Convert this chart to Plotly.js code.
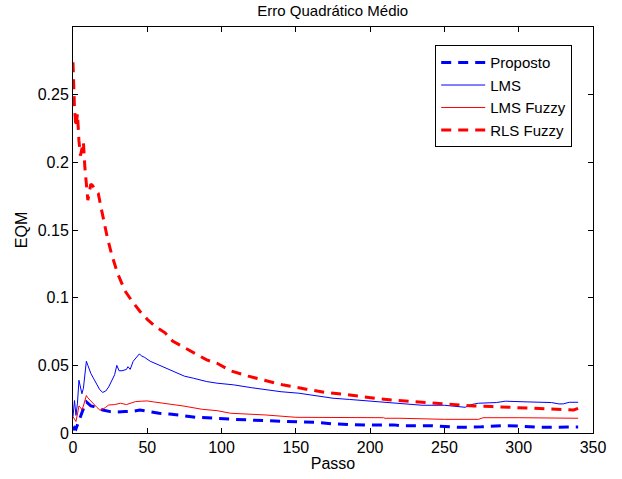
<!DOCTYPE html>
<html>
<head>
<meta charset="utf-8">
<script src="https://cdn.plot.ly/plotly-3.0.1.min.js"></script>
<style>html,body{margin:0;padding:0;background:#fff}#chart{width:622px;height:479px}</style>
</head>
<body>
<div id="chart"></div>
<script>
// Series names
const seriesNames = ["Proposto", "LMS", "LMS Fuzzy", "RLS Fuzzy"];

// Proposto (blue dashed)
const propX = [0,1,2,3,4,5,6,7,8,9,10,12,14,17,20,25,30,35,40,45,48,52,58,65,71,83,97,108,130,152,165,175,197,216,220,242,255,260,275,290,300,313,333,340];
const propY = [0.002,0.004,0.003,0.006,0.010,0.012,0.015,0.018,0.021,0.023,0.022,0.020,0.0195,0.018,0.017,0.0158,0.0155,0.0158,0.016,0.017,0.0165,0.0158,0.0146,0.014,0.0133,0.0116,0.0109,0.0101,0.0091,0.0084,0.0078,0.0067,0.0059,0.006,0.0054,0.0054,0.0048,0.0042,0.0046,0.0054,0.0052,0.0042,0.0044,0.0044];

// LMS (blue solid)
const lmsX = [0,1,2,3,4,5,6,7,8,9,10,12,14,16,18,20,22,24,26,28,29.5,31,33,36,37,38.5,40.5,43,44.7,46,48,52,58,67,75,81,90,97,108,120,130,140,152,165,175,186,197,208,220,235,250,264,268,273,285,291,305,315,322,327,330,334,340];
const lmsY = [0.012,0.024,0.013,0.022,0.039,0.033,0.029,0.033,0.045,0.053,0.050,0.044,0.040,0.036,0.032,0.030,0.031,0.034,0.038,0.043,0.050,0.046,0.046,0.047,0.049,0.047,0.053,0.056,0.0585,0.057,0.056,0.053,0.050,0.0455,0.042,0.0405,0.038,0.0368,0.0356,0.0335,0.032,0.0305,0.0294,0.027,0.0257,0.0248,0.0239,0.0225,0.0215,0.0205,0.0205,0.019,0.021,0.022,0.0225,0.0235,0.023,0.0228,0.0225,0.0215,0.0215,0.0227,0.0227];

// LMS Fuzzy (red solid)
const lmsfX = [0,1,2,3,4,5,6,7,8,9,10,12,14,16,18,20,22,24,28,32,36,40,42,46,50,54,58,66,74,87,97,106,118,130,150,175,200,209,210,220,250,273,276,291,300,340];
const lmsfY = [0.012,0.010,0.0085,0.014,0.020,0.019,0.017,0.020,0.025,0.0277,0.026,0.0235,0.021,0.019,0.017,0.0175,0.019,0.0207,0.021,0.022,0.021,0.0225,0.0232,0.0235,0.0237,0.023,0.0225,0.021,0.020,0.0175,0.0165,0.0146,0.0140,0.0133,0.0116,0.0116,0.0115,0.0113,0.0109,0.0109,0.0101,0.0101,0.0113,0.0116,0.0113,0.0109];

// RLS Fuzzy (red dashed)
const rlsX = [0,1,2,3,4,5,6,7,8,9,10,11,12,13,15,17,19,21,23,26,30,35,40,45,50,55,62,67,72,78,83,90,97,106,118,129,141,157,169,182,194,206,218,231,244,258,270,282,296,308,320,330,335,337,340];
const rlsY = [0.274,0.240,0.226,0.236,0.216,0.205,0.210,0.215,0.196,0.182,0.172,0.178,0.184,0.183,0.180,0.177,0.166,0.155,0.145,0.132,0.118,0.105,0.097,0.090,0.084,0.079,0.074,0.068,0.065,0.061,0.058,0.054,0.0515,0.046,0.042,0.0388,0.0356,0.0324,0.0301,0.0287,0.0269,0.0252,0.0241,0.023,0.022,0.0207,0.020,0.0195,0.019,0.0185,0.0178,0.0176,0.0172,0.017,0.0182];

const xTicks = [0,50,100,150,200,250,300,350];
const yTicks = [0,0.05,0.1,0.15,0.2,0.25];
const yTickText = ["0","0.05","0.1","0.15","0.2","0.25"];

const BLUE = "#0000ff", RED = "#ff0000";
const dashStyle = "10px,7px";

const traces = [
  {x: propX, y: propY, name: seriesNames[0], mode: "lines", line: {color: BLUE, width: 3, dash: dashStyle}},
  {x: lmsX, y: lmsY, name: seriesNames[1], mode: "lines", line: {color: BLUE, width: 1}},
  {x: lmsfX, y: lmsfY, name: seriesNames[2], mode: "lines", line: {color: RED, width: 1}},
  {x: rlsX, y: rlsY, name: seriesNames[3], mode: "lines", line: {color: RED, width: 3, dash: dashStyle}}
];

const font = {family: "Liberation Sans, Arial, Helvetica, sans-serif", size: 16, color: "#000"};

const axisCommon = {
  showgrid: false, zeroline: false, showline: true, linecolor: "#000", linewidth: 1,
  mirror: "ticks", ticks: "inside", ticklen: 5, tickcolor: "#000", tickwidth: 1,
  tickfont: font
};

const layout = {
  width: 622, height: 479,
  margin: {l: 73, r: 29, t: 27, b: 46},
  paper_bgcolor: "#fff", plot_bgcolor: "#fff",
  font: font,
  title: {text: "Erro Quadrático Médio", font: {family: font.family, size: 15, color: "#000"}, x: 0.535, xanchor: "center", y: 0.978, yanchor: "middle"},
  xaxis: Object.assign({}, axisCommon, {range: [0, 350], tickvals: xTicks, ticktext: xTicks.map(String),
    title: {text: "Passo", font: {family: font.family, size: 16, color: "#000"}, standoff: 2}}),
  yaxis: Object.assign({}, axisCommon, {range: [0, 0.3], tickvals: yTicks, ticktext: yTickText,
    title: {text: "EQM", font: {family: font.family, size: 16, color: "#000"}, standoff: 6}}),
  showlegend: true,
  legend: {x: 0.96, y: 0.955, xanchor: "right", yanchor: "top", bgcolor: "#fff",
    bordercolor: "#000", borderwidth: 1, itemwidth: 44, tracegroupgap: 0,
    font: {family: font.family, size: 15, color: "#000"}}
};

Plotly.newPlot("chart", traces, layout, {displayModeBar: false, staticPlot: true});
</script>
</body>
</html>
